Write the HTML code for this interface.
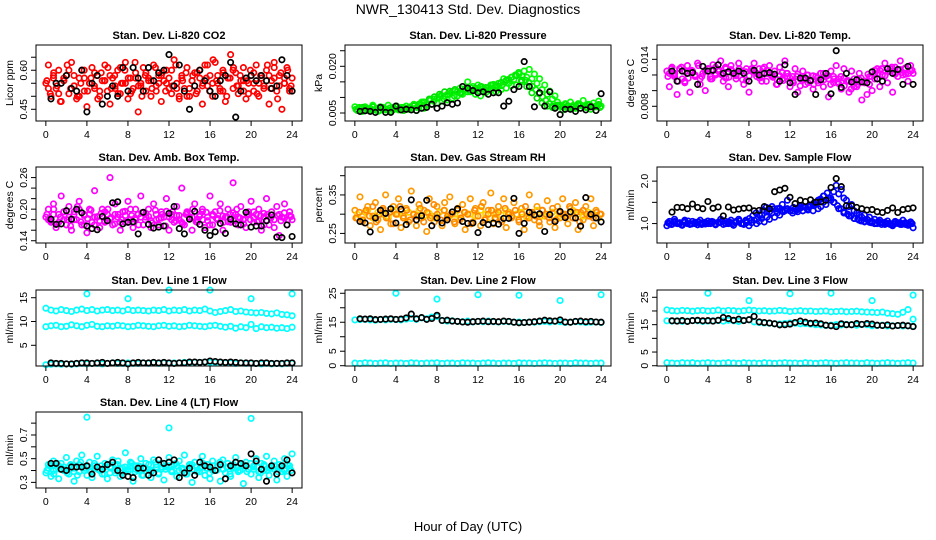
<!DOCTYPE html>
<html><head><meta charset="utf-8"><style>
html,body{margin:0;padding:0;background:#fff;}
svg{display:block;font-family:"Liberation Sans",sans-serif;}
</style></head><body>
<svg id="chart" width="936" height="540" viewBox="0 0 936 540" xmlns="http://www.w3.org/2000/svg">
<rect x="0" y="0" width="936" height="540" fill="#fff"/>
<text x="468" y="14" text-anchor="middle" font-size="14">NWR_130413 Std. Dev. Diagnostics</text>
<text x="468" y="531" text-anchor="middle" font-size="13">Hour of Day (UTC)</text>
</svg>
<script>
const xTicks=[0,4,8,12,16,20,24];
// CO2
const co2Main=[0.55,0.62,0.50,0.57,0.53,0.60,0.48,0.56,0.58,0.51,0.63,0.54,0.49,0.57,0.60,0.52,0.46,0.55,0.61,0.53,0.58,0.50,0.56,0.62,0.52,0.47,0.57,0.54,0.60,0.51,0.55,0.63,0.49,0.57,0.53,0.59,0.44,0.55,0.61,0.52,0.57,0.50,0.62,0.54,0.58,0.48,0.56,0.60,0.53,0.51,0.64,0.55,0.49,0.58,0.53,0.61,0.50,0.56,0.59,0.52,0.57,0.47,0.62,0.54,0.58,0.50,0.63,0.55,0.52,0.60,0.48,0.57,0.66,0.53,0.59,0.51,0.56,0.61,0.49,0.55,0.58,0.52,0.62,0.50,0.57,0.54,0.60,0.47,0.56,0.63,0.52,0.58,0.45,0.55,0.61,0.53,0.57];
const co2Extra=[0.53,0.58,0.51,0.56,0.60,0.54,0.50,0.57,0.55,0.59,0.52,0.56,0.58,0.53,0.61,0.55,0.51,0.57,0.54,0.59,0.56,0.52,0.58,0.55,0.60,0.53,0.57,0.50,0.56,0.59,0.54,0.62,0.55,0.58,0.52,0.57,0.60,0.54,0.56,0.51,0.59,0.55,0.53,0.58,0.61,0.54,0.57,0.52];
const co2Third=[0.56,0.51,0.59,0.54,0.48,0.57,0.62,0.53,0.58,0.50,0.55,0.60,0.52,0.57,0.54,0.49,0.59,0.56,0.61,0.53,0.58,0.51,0.55,0.60,0.57,0.52,0.63,0.54,0.50,0.58,0.56,0.53,0.61,0.55,0.59,0.52,0.57,0.54,0.62,0.50,0.56,0.59,0.53,0.58,0.51,0.60,0.55,0.57,0.52,0.64,0.56,0.53,0.59,0.50,0.57,0.61,0.54,0.58,0.52,0.56,0.60,0.55,0.51,0.58,0.54,0.62,0.53,0.57,0.49,0.59,0.55,0.60,0.54];
const co2Black=[0.49,0.55,0.55,0.58,0.53,0.52,0.60,0.44,0.55,0.58,0.47,0.50,0.54,0.50,0.61,0.52,0.61,0.57,0.52,0.61,0.56,0.59,0.60,0.66,0.54,0.62,0.52,0.45,0.54,0.60,0.56,0.52,0.50,0.56,0.58,0.63,0.42,0.52,0.57,0.58,0.56,0.58,0.56,0.53,0.54,0.64,0.58,0.52];
const co2Ticks=[0.45,0.50,0.55,0.60,0.65], co2Labels=[0.45,0.60];
// Pressure
const presMain=[0.007,0.006,0.0065,0.0055,0.007,0.006,0.0065,0.0075,0.006,0.0055,0.007,0.0065,0.006,0.0075,0.0055,0.0065,0.007,0.006,0.0068,0.0058,0.0072,0.0062,0.0066,0.0078,0.0058,0.007,0.0085,0.0065,0.0075,0.009,0.0078,0.0095,0.0082,0.01,0.0088,0.0105,0.0092,0.011,0.0098,0.012,0.0105,0.013,0.011,0.0125,0.015,0.0118,0.0135,0.011,0.014,0.0105,0.0128,0.0115,0.013,0.0122,0.0142,0.0118,0.0135,0.0125,0.016,0.013,0.0145,0.0138,0.0158,0.014,0.0175,0.015,0.0185,0.0165,0.019,0.016,0.0175,0.0145,0.016,0.0125,0.014,0.011,0.012,0.0095,0.0105,0.0085,0.0075,0.006,0.008,0.0068,0.0085,0.0072,0.0065,0.008,0.0075,0.009,0.0068,0.0078,0.0062,0.0082,0.007,0.0088,0.0072];
const presExtra=[0.0058,0.0068,0.0062,0.006,0.0066,0.0064,0.006,0.0068,0.0063,0.0059,0.0067,0.0073,0.0078,0.0085,0.0095,0.0102,0.011,0.0118,0.012,0.0125,0.0115,0.0128,0.0122,0.013,0.0135,0.0132,0.014,0.0138,0.0148,0.0155,0.0165,0.017,0.0155,0.0135,0.0115,0.0098,0.0082,0.0072,0.0068,0.0075,0.007,0.0073,0.0068,0.0076,0.0071,0.0074,0.0069,0.0077];
const presThird=[0.0062,0.0068,0.0058,0.0066,0.006,0.007,0.0064,0.0058,0.0068,0.0062,0.0066,0.006,0.0072,0.0064,0.0068,0.0062,0.007,0.0075,0.0068,0.008,0.0085,0.0078,0.0092,0.0088,0.0098,0.0105,0.0095,0.011,0.0115,0.0105,0.012,0.0112,0.0125,0.0118,0.013,0.0122,0.0128,0.0135,0.0125,0.0132,0.014,0.0135,0.0145,0.0138,0.015,0.0158,0.0165,0.0172,0.018,0.0168,0.0155,0.0148,0.0135,0.0125,0.0112,0.0102,0.009,0.008,0.0072,0.0068,0.0075,0.007,0.0078,0.0066,0.0074,0.0069,0.0078,0.0072,0.0068,0.0076,0.007,0.0074,0.0068];
const presBlack=[0.0055,0.0057,0.0055,0.0052,0.0068,0.0052,0.0052,0.0072,0.006,0.0062,0.006,0.0058,0.0065,0.0068,0.0078,0.0065,0.0072,0.0083,0.0078,0.0082,0.0135,0.013,0.0122,0.0115,0.0118,0.011,0.0115,0.0115,0.0072,0.0088,0.0125,0.0135,0.0215,0.0135,0.007,0.0115,0.0072,0.0118,0.0065,0.0045,0.0062,0.0062,0.0055,0.0065,0.006,0.007,0.0058,0.0112];
const presTicks=[0.005,0.010,0.015,0.020,0.025], presLabels=[0.005,0.020];
// Li-820 Temp
const tempMain=[0.0125,0.0105,0.013,0.012,0.0095,0.0128,0.0115,0.011,0.0132,0.0098,0.0125,0.0118,0.0135,0.0108,0.0122,0.01,0.0128,0.0115,0.0133,0.012,0.0125,0.0138,0.0112,0.0128,0.0105,0.0132,0.0122,0.0115,0.0135,0.0125,0.0108,0.0128,0.0098,0.0125,0.0135,0.0118,0.0128,0.0112,0.013,0.0122,0.0132,0.0118,0.0125,0.0108,0.013,0.0115,0.0138,0.0122,0.0105,0.0118,0.0128,0.0098,0.0115,0.0125,0.0108,0.012,0.0112,0.0102,0.0118,0.011,0.0122,0.0105,0.0118,0.0092,0.0125,0.011,0.0132,0.0115,0.0102,0.0128,0.0112,0.0098,0.0125,0.0115,0.0105,0.0122,0.0088,0.0112,0.0095,0.0108,0.01,0.0115,0.0128,0.0105,0.012,0.0135,0.011,0.0125,0.0098,0.013,0.0118,0.0138,0.012,0.0128,0.0112,0.0132,0.0122];
const tempExtra=[0.0122,0.0118,0.0128,0.0112,0.0125,0.0120,0.0115,0.0126,0.0118,0.0130,0.0121,0.0116,0.0127,0.0119,0.0124,0.0113,0.0128,0.0122,0.0117,0.0126,0.0120,0.0114,0.0123,0.0118,0.0112,0.0121,0.0116,0.0110,0.0119,0.0113,0.0122,0.0115,0.0118,0.0109,0.0116,0.0112,0.0105,0.0114,0.0110,0.0118,0.0121,0.0126,0.0119,0.0128,0.0123,0.0127,0.0121,0.0125];
const tempThird=[0.0118,0.0128,0.0122,0.0112,0.013,0.0124,0.0116,0.0126,0.012,0.0132,0.0118,0.0125,0.0128,0.0115,0.0122,0.0127,0.012,0.013,0.0117,0.0125,0.0121,0.0128,0.0114,0.0124,0.0119,0.0126,0.0122,0.0116,0.0128,0.0112,0.0121,0.0117,0.0108,0.0119,0.0113,0.0122,0.0116,0.011,0.0118,0.0106,0.0114,0.012,0.0112,0.0108,0.0116,0.0122,0.0114,0.0119,0.0108,0.0115,0.0111,0.0118,0.0106,0.0113,0.0102,0.0111,0.0108,0.0116,0.0112,0.0121,0.0118,0.0126,0.0122,0.0128,0.0119,0.0124,0.013,0.0121,0.0127,0.0123,0.0129,0.0122,0.0126];
const tempBlack=[0.0125,0.0112,0.0125,0.0122,0.0123,0.0108,0.0131,0.0125,0.0126,0.0133,0.0122,0.0124,0.0122,0.0125,0.0122,0.0112,0.0126,0.012,0.0122,0.0123,0.0121,0.0112,0.0133,0.011,0.0095,0.0116,0.0116,0.0113,0.0095,0.0114,0.0122,0.0096,0.0151,0.0104,0.0122,0.0111,0.0114,0.0111,0.011,0.0124,0.0115,0.0112,0.0128,0.0122,0.0127,0.0108,0.0131,0.0108];
const tempTicks=[0.008,0.010,0.012,0.014], tempLabels=[0.008,0.014];
// Amb box temp
const ambMain=[0.185,0.20,0.175,0.21,0.165,0.19,0.225,0.18,0.17,0.205,0.16,0.195,0.18,0.215,0.17,0.19,0.155,0.2,0.175,0.235,0.185,0.165,0.2,0.175,0.19,0.26,0.17,0.21,0.185,0.16,0.195,0.175,0.215,0.18,0.165,0.2,0.19,0.225,0.17,0.185,0.2,0.165,0.21,0.18,0.17,0.195,0.185,0.22,0.16,0.19,0.175,0.205,0.18,0.24,0.17,0.195,0.185,0.16,0.21,0.175,0.19,0.2,0.165,0.185,0.225,0.17,0.195,0.18,0.21,0.16,0.185,0.2,0.175,0.25,0.19,0.17,0.205,0.18,0.165,0.195,0.215,0.175,0.19,0.2,0.16,0.185,0.22,0.17,0.195,0.18,0.205,0.15,0.185,0.21,0.17,0.195,0.18];
const ambExtra=[0.18,0.19,0.175,0.195,0.185,0.18,0.2,0.17,0.19,0.185,0.178,0.195,0.182,0.19,0.175,0.188,0.2,0.18,0.185,0.192,0.178,0.19,0.183,0.196,0.18,0.188,0.175,0.192,0.185,0.18,0.195,0.178,0.19,0.182,0.187,0.176,0.193,0.185,0.18,0.19,0.184,0.178,0.192,0.186,0.18,0.19,0.183,0.188];
const ambThird=[0.19,0.178,0.2,0.172,0.185,0.195,0.18,0.168,0.19,0.205,0.176,0.188,0.182,0.198,0.17,0.186,0.192,0.178,0.2,0.184,0.172,0.19,0.18,0.196,0.175,0.188,0.183,0.17,0.193,0.18,0.186,0.174,0.198,0.182,0.19,0.168,0.185,0.195,0.178,0.188,0.172,0.19,0.183,0.2,0.176,0.186,0.18,0.194,0.17,0.188,0.182,0.197,0.175,0.186,0.19,0.178,0.2,0.183,0.172,0.19,0.18,0.195,0.176,0.187,0.17,0.19,0.183,0.165,0.188,0.178,0.193,0.18,0.186];
const ambBlack=[0.181,0.171,0.172,0.197,0.181,0.2,0.193,0.168,0.163,0.161,0.186,0.178,0.212,0.214,0.172,0.175,0.176,0.153,0.194,0.171,0.164,0.166,0.168,0.192,0.205,0.163,0.153,0.181,0.196,0.171,0.16,0.15,0.157,0.173,0.154,0.181,0.172,0.17,0.194,0.166,0.168,0.168,0.178,0.189,0.147,0.146,0.17,0.148];
const ambTicks=[0.14,0.16,0.18,0.20,0.22,0.24,0.26], ambLabels=[0.14,0.20,0.26];
// RH
const rhMain=[0.31,0.29,0.345,0.28,0.305,0.32,0.27,0.295,0.33,0.285,0.26,0.31,0.35,0.29,0.275,0.32,0.30,0.34,0.265,0.295,0.315,0.28,0.36,0.3,0.27,0.325,0.29,0.31,0.255,0.34,0.295,0.28,0.32,0.305,0.27,0.33,0.29,0.345,0.3,0.275,0.31,0.285,0.325,0.26,0.3,0.34,0.28,0.315,0.295,0.27,0.33,0.29,0.31,0.355,0.275,0.3,0.32,0.285,0.34,0.265,0.305,0.29,0.33,0.3,0.28,0.315,0.26,0.295,0.35,0.3,0.285,0.32,0.27,0.31,0.295,0.335,0.28,0.305,0.265,0.32,0.29,0.34,0.3,0.275,0.315,0.29,0.33,0.26,0.305,0.285,0.32,0.295,0.34,0.27,0.31,0.29,0.3];
const rhExtra=[0.3,0.295,0.31,0.29,0.305,0.3,0.295,0.31,0.3,0.29,0.305,0.298,0.31,0.295,0.302,0.29,0.305,0.31,0.295,0.3,0.29,0.305,0.3,0.295,0.31,0.3,0.29,0.305,0.298,0.31,0.295,0.3,0.305,0.29,0.3,0.31,0.295,0.3,0.305,0.29,0.3,0.295,0.31,0.3,0.295,0.305,0.3,0.29];
const rhThird=[0.29,0.305,0.285,0.31,0.295,0.32,0.28,0.3,0.315,0.29,0.305,0.275,0.3,0.32,0.29,0.31,0.285,0.3,0.295,0.315,0.28,0.305,0.29,0.325,0.3,0.285,0.31,0.295,0.3,0.28,0.315,0.29,0.305,0.3,0.275,0.31,0.295,0.32,0.285,0.3,0.31,0.29,0.305,0.28,0.315,0.3,0.295,0.31,0.285,0.3,0.32,0.29,0.305,0.295,0.28,0.31,0.3,0.29,0.315,0.285,0.305,0.3,0.295,0.32,0.29,0.305,0.28,0.31,0.3,0.295,0.29,0.305,0.3];
const rhBlack=[0.281,0.277,0.254,0.29,0.31,0.302,0.314,0.277,0.313,0.273,0.337,0.285,0.296,0.336,0.27,0.29,0.277,0.285,0.306,0.314,0.281,0.276,0.277,0.252,0.278,0.273,0.277,0.274,0.289,0.289,0.341,0.25,0.276,0.305,0.298,0.301,0.255,0.299,0.281,0.307,0.291,0.306,0.29,0.269,0.343,0.3,0.29,0.28];
const rhTicks=[0.25,0.30,0.35,0.40], rhLabels=[0.25,0.35];
// Sample flow
const sampMain=[0.95,1.05,0.98,1.1,1.0,1.02,0.96,1.08,1.0,0.98,1.05,1.0,0.97,1.08,1.02,0.99,1.06,1.0,1.04,0.97,1.03,1.1,0.98,1.05,1.0,1.08,0.96,1.03,1.1,1.0,0.98,1.06,0.95,1.02,1.08,1.0,1.05,1.12,1.04,1.15,1.1,1.25,1.15,1.35,1.2,1.45,1.3,1.55,1.3,1.25,1.35,1.28,1.4,1.3,1.38,1.32,1.42,1.3,1.45,1.35,1.4,1.5,1.45,1.6,1.55,1.75,1.9,1.7,1.8,1.6,1.55,1.4,1.45,1.3,1.25,1.2,1.15,1.2,1.1,1.15,1.05,1.1,1.0,1.08,1.02,0.98,1.06,1.0,0.95,1.05,1.02,0.98,1.08,1.0,0.96,1.04,0.9];
const sampExtra=[1.0,1.02,1.0,1.05,1.0,1.03,1.0,1.02,1.04,1.0,1.03,1.0,1.02,1.05,1.0,1.02,1.08,1.1,1.2,1.3,1.4,1.25,1.3,1.35,1.3,1.35,1.3,1.4,1.45,1.55,1.65,1.6,1.5,1.35,1.25,1.18,1.12,1.08,1.05,1.03,1.0,1.02,1.0,0.98,1.0,1.02,0.98,1.0];
const sampThird=[1.02,0.98,1.05,1.0,0.97,1.03,1.06,0.99,1.02,1.04,0.98,1.03,1.0,1.05,0.98,1.02,1.07,1.0,1.04,0.99,1.03,1.06,1.0,1.08,1.12,1.18,1.25,1.2,1.32,1.38,1.28,1.34,1.3,1.36,1.28,1.33,1.3,1.38,1.32,1.36,1.4,1.35,1.42,1.48,1.52,1.58,1.65,1.72,1.6,1.5,1.42,1.35,1.28,1.22,1.18,1.12,1.1,1.06,1.04,1.08,1.02,1.0,1.05,0.98,1.03,1.0,0.97,1.04,1.0,0.98,1.02,0.99,1.0];
const sampBlack=[1.27,1.38,1.38,1.35,1.46,1.38,1.35,1.52,1.36,1.39,1.18,1.39,1.32,1.34,1.36,1.37,1.3,1.31,1.4,1.35,1.75,1.79,1.83,1.62,1.47,1.55,1.52,1.56,1.5,1.51,1.55,1.85,2.06,1.87,1.42,1.42,1.38,1.35,1.32,1.33,1.28,1.26,1.31,1.37,1.26,1.33,1.35,1.37];
const sampTicks=[1.0,1.5,2.0], sampLabels=[1.0,2.0];
// Line 1
const l1BandA=[12.8,12.4,12.2,12.5,12.3,12.1,12.4,12.6,12.3,12.5,12.2,12.4,12.5,12.3,12.4,12.2,12.5,12.3,12.4,12.3,12.2,12.4,12.3,12.5,12.2,12.4,12.3,12.5,12.2,12.4,12.3,12.6,12.2,11.9,12.1,12.3,12.5,12.1,12.2,12.0,11.9,11.8,11.9,11.7,11.6,11.8,11.5,11.4,11.2];
const l1BandB=[8.9,9.1,9.2,8.9,9.0,9.3,9.1,8.9,9.2,9.4,9.0,8.9,9.1,9.0,9.2,9.1,8.9,9.0,9.2,9.1,9.0,8.9,9.1,9.2,9.0,9.1,8.9,9.0,9.2,9.1,9.0,8.9,9.1,9.2,9.0,8.8,9.0,8.6,8.9,8.7,9.4,8.5,8.9,8.7,8.8,8.6,8.7,8.5,8.8];
const l1BandC=[0.9,1.0,1.1,1.0,1.1,1.0,1.1,1.2,1.1,1.2,1.2,1.1,1.2,1.3,1.2,1.2,1.3,1.2,1.2,1.3,1.2,1.3,1.2,1.3,1.2,1.3,1.3,1.4,1.3,1.4,1.4,1.5,1.4,1.4,1.4,1.3,1.3,1.2,1.3,1.2,1.2,1.2,1.1,1.2,1.1,1.2,1.1,1.2,1.2];
const l1Outliers=[15.8,14.8,16.6,16.6,14.8,15.8];
const l1Black=[1.3,1.2,1.2,1.1,1.1,1.2,1.3,1.3,1.2,1.3,1.4,1.2,1.3,1.4,1.3,1.1,1.3,1.4,1.3,1.3,1.4,1.3,1.4,1.3,1.2,1.3,1.3,1.5,1.5,1.4,1.5,1.7,1.6,1.5,1.4,1.5,1.4,1.3,1.3,1.3,1.2,1.3,1.3,1.2,1.2,1.2,1.3,1.3];
const l1Ticks=[5,10,15], l1Labels=[5,10,15];
// Line 2
const l2BandA=[15.8,15.9,16.0,15.8,15.7,15.9,15.8,16.0,15.9,15.8,16.1,16.3,16.0,16.5,16.2,16.8,17.0,15.6,15.4,15.5,15.3,15.2,15.4,15.1,15.3,15.2,15.4,15.2,15.1,15.3,15.2,15.0,15.1,14.9,15.1,15.0,15.2,15.3,15.1,15.3,15.2,14.9,15.0,15.2,15.1,14.9,15.0,15.1,14.9];
const l2BandB=[0.9,0.8,1.0,0.9,0.8,0.9,1.0,0.8,0.9,0.9,0.8,1.0,0.9,0.8,0.9,0.9,1.0,0.8,0.9,0.9,0.8,1.0,0.9,0.9,0.8,0.9,1.0,0.9,0.8,0.9,0.9,0.8,1.0,0.9,0.9,0.8,0.9,1.0,0.9,0.8,0.9,0.9,0.8,1.0,0.9,0.9,0.8,0.9,0.9];
const l2Outliers=[25.0,23.0,24.5,24.3,22.5,24.5];
const l2Black=[16.2,16.1,16.2,15.9,16.0,16.1,16.2,16.0,16.1,16.5,17.8,16.2,16.6,16.0,16.3,17.4,15.6,15.7,15.4,15.3,15.1,15.0,15.2,15.3,15.4,15.2,15.3,15.2,15.4,15.3,15.0,14.8,14.9,15.0,15.2,15.4,15.7,15.5,15.4,15.8,15.1,15.0,15.3,15.4,15.2,15.3,15.1,15.0];
const l2Ticks=[0,5,10,15,20,25], l2Labels=[0,5,15,25];
// Line 3
const l3BandA=[20.4,20.1,20.0,20.2,20.1,19.9,20.1,20.2,20.0,20.1,20.3,20.0,20.2,20.1,19.9,20.1,20.3,20.2,20.0,20.1,19.9,20.0,20.2,20.1,19.8,20.0,20.1,19.9,20.0,19.8,19.9,20.0,19.7,19.8,19.9,19.7,19.8,19.9,19.7,19.6,19.5,19.4,19.6,19.2,19.0,18.8,19.5,20.5,17.0];
const l3BandB=[16.4,16.3,16.4,16.2,16.3,16.5,16.4,16.2,16.3,16.4,16.5,16.3,16.6,16.4,16.2,16.6,16.8,16.0,15.8,15.6,15.5,15.3,15.2,15.4,15.6,15.5,15.3,15.4,15.2,15.0,14.9,14.7,14.8,15.0,14.9,15.1,15.0,14.8,15.1,15.0,14.6,14.7,14.8,14.5,14.6,14.7,14.5,14.6,14.4];
const l3BandC=[1.1,1.0,0.9,1.1,1.0,1.1,0.9,1.0,1.1,1.0,0.9,1.0,1.1,1.0,0.9,1.1,1.0,1.0,0.9,1.1,1.0,0.9,1.0,1.1,1.0,1.0,0.9,1.1,1.0,0.9,1.0,1.1,1.0,0.9,1.0,1.1,1.0,1.0,0.9,1.1,1.0,0.9,1.0,1.1,1.0,0.9,1.0,1.1,1.0];
const l3Outliers=[26.5,23.8,26.3,26.5,23.8,25.8];
const l3Black=[16.4,16.3,16.5,16.2,16.5,16.6,16.4,16.5,16.3,16.6,17.6,17.2,16.6,17.0,16.5,16.8,18.0,16.0,15.8,15.6,15.3,14.9,15.0,15.2,15.8,16.3,15.9,15.5,15.6,15.3,14.8,14.6,14.3,15.3,15.0,15.0,15.4,15.1,15.4,15.2,14.8,14.7,14.9,14.5,14.7,14.8,14.6,14.3];
const l3Ticks=[0,5,10,15,20,25], l3Labels=[0,5,15,25];
// Line 4
const l4Main=[0.38,0.45,0.35,0.48,0.41,0.33,0.46,0.4,0.51,0.37,0.44,0.31,0.48,0.39,0.53,0.42,0.36,0.47,0.34,0.44,0.52,0.4,0.37,0.46,0.33,0.43,0.49,0.38,0.45,0.35,0.42,0.55,0.39,0.47,0.31,0.44,0.4,0.5,0.36,0.46,0.41,0.34,0.49,0.43,0.37,0.46,0.32,0.44,0.51,0.39,0.45,0.35,0.48,0.41,0.53,0.37,0.44,0.3,0.47,0.4,0.42,0.52,0.36,0.45,0.33,0.48,0.4,0.44,0.31,0.49,0.38,0.46,0.35,0.43,0.51,0.39,0.45,0.29,0.47,0.41,0.37,0.44,0.5,0.34,0.46,0.4,0.52,0.36,0.43,0.48,0.32,0.45,0.39,0.5,0.35,0.44,0.54];
const l4Extra=[0.42,0.4,0.44,0.41,0.43,0.39,0.45,0.42,0.4,0.44,0.41,0.43,0.38,0.45,0.42,0.4,0.44,0.41,0.43,0.42,0.39,0.45,0.41,0.43,0.4,0.44,0.42,0.41,0.45,0.39,0.43,0.42,0.4,0.44,0.41,0.43,0.42,0.4,0.45,0.41,0.43,0.39,0.44,0.42,0.41,0.43,0.4,0.42];
const l4Third=[0.4,0.44,0.37,0.46,0.41,0.43,0.38,0.45,0.42,0.36,0.47,0.4,0.43,0.39,0.46,0.41,0.44,0.37,0.45,0.42,0.4,0.48,0.38,0.43,0.41,0.46,0.39,0.44,0.36,0.42,0.45,0.4,0.47,0.38,0.43,0.41,0.44,0.39,0.46,0.4,0.42,0.37,0.45,0.41,0.43,0.39,0.46,0.42,0.38,0.44,0.4,0.47,0.41,0.43,0.37,0.45,0.42,0.4,0.44,0.39,0.46,0.41,0.43,0.38,0.45,0.4,0.42,0.44,0.39,0.43,0.41,0.45,0.4];
const l4OutlierHours=[4,12,20], l4Outliers=[0.85,0.76,0.84];
const l4Black=[0.46,0.46,0.41,0.40,0.43,0.43,0.43,0.44,0.37,0.43,0.41,0.45,0.47,0.40,0.36,0.35,0.34,0.42,0.42,0.36,0.38,0.49,0.46,0.47,0.49,0.34,0.38,0.42,0.36,0.47,0.44,0.43,0.40,0.45,0.33,0.44,0.47,0.46,0.44,0.54,0.48,0.41,0.31,0.44,0.37,0.44,0.49,0.38];
const l4Ticks=[0.3,0.4,0.5,0.6,0.7,0.8], l4Labels=[0.3,0.5,0.7];
const outlierHours=[4,8,12,16,20,24];

const NS='http://www.w3.org/2000/svg';
const svg=document.getElementById('chart');
function mk(tag,attrs,parent){const e=document.createElementNS(NS,tag);for(const k in attrs)e.setAttribute(k,attrs[k]);(parent||svg).appendChild(e);return e;}
const colLeft=[36,345,657], rowTop=[45,167,290,412], W=266, H=76;
const XMIN=-0.96, XMAX=24.96;
const CY='#00FFFF';
const X3={t0:0.1,t1:23.9};
const panels=[
 {id:'co2',title:'Stan. Dev. Li-820 CO2',ylab:'Licor ppm',c:0,r:0,ymin:0.405,ymax:0.697,ticks:co2Ticks,labels:co2Labels,
  series:[{v:co2Main,col:'#FF0000'},{v:co2Extra,col:'#FF0000',t0:0.25,t1:23.75},{v:co2Third,col:'#FF0000',t0:0.1,t1:23.9},{v:co2Black,col:'#000',t0:0.5,t1:24}]},
 {id:'pressure',title:'Stan. Dev. Li-820 Pressure',ylab:'kPa',c:1,r:0,ymin:0.00243,ymax:0.02684,ticks:presTicks,labels:presLabels,
  series:[{v:presMain,col:'#00FF00'},{v:presExtra,col:'#00DD00',t0:0.25,t1:23.75},{v:presThird,col:'#00EE00',t0:0.1,t1:23.9},{v:presBlack,col:'#000',t0:0.5,t1:24}]},
 {id:'li820-temp',title:'Stan. Dev. Li-820 Temp.',ylab:'degrees C',c:2,r:0,ymin:0.00612,ymax:0.01583,ticks:tempTicks,labels:tempLabels,
  series:[{v:tempMain,col:'#FF00FF'},{v:tempExtra,col:'#FF00FF',t0:0.25,t1:23.75},{v:tempThird,col:'#FF00FF',t0:0.1,t1:23.9},{v:tempBlack,col:'#000',t0:0.5,t1:24}]},
 {id:'amb-box-temp',title:'Stan. Dev. Amb. Box Temp.',ylab:'degrees C',c:0,r:1,ymin:0.1357,ymax:0.2801,ticks:ambTicks,labels:ambLabels,
  series:[{v:ambMain,col:'#FF00FF'},{v:ambExtra,col:'#FF00FF',t0:0.25,t1:23.75},{v:ambThird,col:'#FF00FF',t0:0.1,t1:23.9},{v:ambBlack,col:'#000',t0:0.5,t1:24}]},
 {id:'gas-rh',title:'Stan. Dev. Gas Stream RH',ylab:'percent',c:1,r:1,ymin:0.2251,ymax:0.4226,ticks:rhTicks,labels:rhLabels,
  series:[{v:rhMain,col:'#FF9900'},{v:rhExtra,col:'#FFD400',t0:0.25,t1:23.75},{v:rhThird,col:'#FF8800',t0:0.1,t1:23.9},{v:rhBlack,col:'#000',t0:0.5,t1:24}]},
 {id:'sample-flow',title:'Stan. Dev. Sample Flow',ylab:'ml/min',c:2,r:1,ymin:0.542,ymax:2.333,ticks:sampTicks,labels:sampLabels,
  series:[{v:sampMain,col:'#0000FF'},{v:sampExtra,col:'#0000FF',t0:0.25,t1:23.75},{v:sampThird,col:'#0000FF',t0:0.1,t1:23.9},{v:sampBlack,col:'#000',t0:0.5,t1:24}]},
 {id:'line1-flow',title:'Stan. Dev. Line 1 Flow',ylab:'ml/min',c:0,r:2,ymin:0.65,ymax:16.62,ticks:l1Ticks,labels:l1Labels,
  series:[{v:l1BandA,col:CY},{v:l1BandB,col:CY},{v:l1BandC,col:CY},{v:l1Outliers,col:CY,hours:outlierHours},{v:l1Black,col:'#000',t0:0.5,t1:24}]},
 {id:'line2-flow',title:'Stan. Dev. Line 2 Flow',ylab:'ml/min',c:1,r:2,ymin:-0.1,ymax:26.13,ticks:l2Ticks,labels:l2Labels,
  series:[{v:l2BandA,col:CY},{v:l2BandB,col:CY},{v:l2Outliers,col:CY,hours:outlierHours},{v:l2Black,col:'#000',t0:0.5,t1:24}]},
 {id:'line3-flow',title:'Stan. Dev. Line 3 Flow',ylab:'ml/min',c:2,r:2,ymin:-0.1,ymax:27.66,ticks:l3Ticks,labels:l3Labels,
  series:[{v:l3BandA,col:CY},{v:l3BandB,col:CY},{v:l3BandC,col:CY},{v:l3Outliers,col:CY,hours:outlierHours},{v:l3Black,col:'#000',t0:0.5,t1:24}]},
 {id:'line4-flow',title:'Stan. Dev. Line 4 (LT) Flow',ylab:'ml/min',c:0,r:3,ymin:0.2525,ymax:0.894,ticks:l4Ticks,labels:l4Labels,
  series:[{v:l4Main,col:CY},{v:l4Extra,col:CY,t0:0.25,t1:23.75},{v:l4Third,col:CY,t0:0.1,t1:23.9},{v:l4Outliers,col:CY,hours:l4OutlierHours},{v:l4Black,col:'#000',t0:0.5,t1:24}]}
];
panels.forEach(p=>{
  const L=colLeft[p.c], T=rowTop[p.r];
  const g=mk('g',{});
  
  
  const xs=h=>L+(h-XMIN)/(XMAX-XMIN)*W;
  const ys=v=>T+H-(v-p.ymin)/(p.ymax-p.ymin)*H;
  const tt=mk('text',{x:L+W/2,y:T-6,'text-anchor':'middle','font-size':'11','font-weight':'bold'},g);
  tt.textContent=p.title;
  
  
  const yl=mk('text',{x:0,y:0,'text-anchor':'middle','font-size':'10.5',transform:`translate(${L-23},${T+H/2}) rotate(-90)`},g);
  yl.textContent=p.ylab;
  
  
  const pts=mk('g',{fill:'none','stroke-width':'1.7'},g);
  
  
  p.series.forEach(s=>{
    const n=s.v.length, t0=s.t0!==undefined?s.t0:0, t1=s.t1!==undefined?s.t1:24;
    s.v.forEach((v,i)=>{
      const h=s.hours?s.hours[i]:t0+(n>1?i*(t1-t0)/(n-1):0);
      const cc=mk('circle',{cx:xs(h).toFixed(1),cy:ys(v).toFixed(1),r:'2.7',stroke:s.col},pts);
      
      
    });
  });
  const box=mk('rect',{x:L,y:T,width:W,height:H,fill:'none',stroke:'#000','stroke-width':'1'},g);
  
  
  mk('line',{x1:xs(0),x2:xs(24),y1:T+H,y2:T+H,stroke:'#000'},g);
  xTicks.forEach(h=>{
    mk('line',{x1:xs(h),x2:xs(h),y1:T+H,y2:T+H+5,stroke:'#000'},g);
    const tx=mk('text',{x:xs(h),y:T+H+17,'text-anchor':'middle','font-size':'10.5'},g);
    tx.textContent=String(h);
    
    
  });
  const tk=p.ticks;
  mk('line',{x1:L,x2:L,y1:ys(tk[0]),y2:ys(tk[tk.length-1]),stroke:'#000'},g);
  tk.forEach(v=>{mk('line',{x1:L-5,x2:L,y1:ys(v),y2:ys(v),stroke:'#000'},g);});
  p.labels.forEach(v=>{
    const step=p.ticks[1]-p.ticks[0];
    const dec=step<0.01?3:(step<0.1?2:(step<1?1:0));
    const s=p.id==='sample-flow'?v.toFixed(1):v.toFixed(dec);
    const ty=mk('text',{x:0,y:0,'text-anchor':'middle','font-size':'10.5',transform:`translate(${L-9},${ys(v)}) rotate(-90)`},g);
    ty.textContent=s;
    
    
  });
});
</script>
</body></html>
